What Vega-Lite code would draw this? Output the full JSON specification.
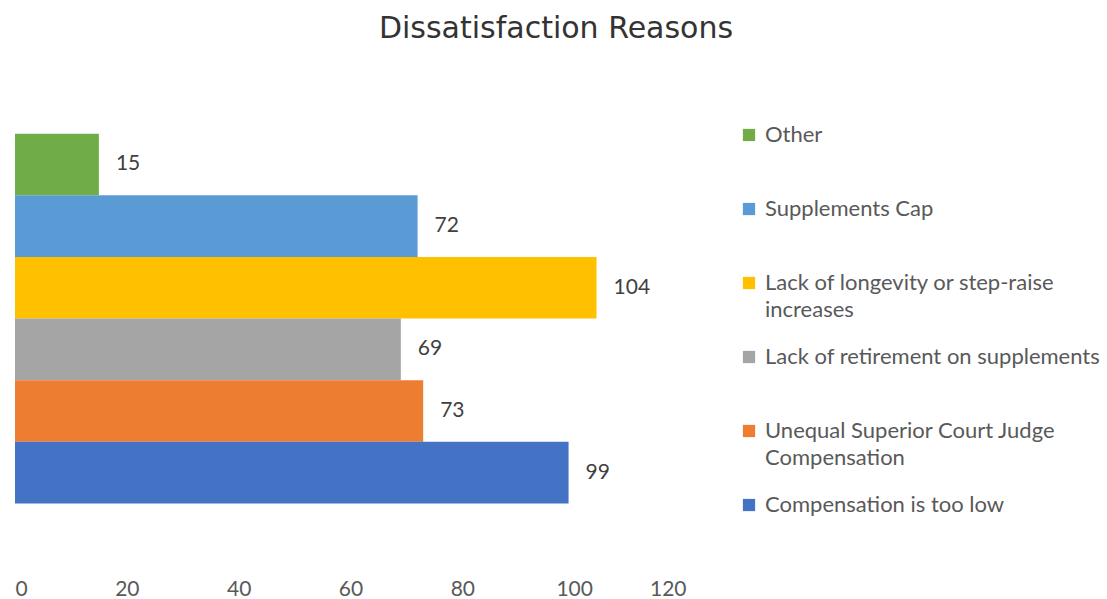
{
  "$schema": "https://vega.github.io/schema/vega-lite/v6.json",
  "width": 671,
  "height": 493,
  "autosize": "none",
  "padding": {"left": 15, "top": 72, "right": 421, "bottom": 34},
  "background": "white",
  "title": {
    "text": "Dissatisfaction Reasons",
    "anchor": "middle",
    "frame": "bounds",
    "font": "DejaVu Sans",
    "fontSize": 30,
    "fontWeight": "normal",
    "color": "#333333",
    "offset": 28,
    "dx": -2
  },
  "config": {"view": {"stroke": null}},
  "data": {
    "values": [
      {"reason": "Other", "count": 15},
      {"reason": "Supplements Cap", "count": 72},
      {"reason": "Lack of longevity or step-raise increases", "count": 104},
      {"reason": "Lack of retirement on supplements", "count": 69},
      {"reason": "Unequal Superior Court Judge Compensation", "count": 73},
      {"reason": "Compensation is too low", "count": 99}
    ]
  },
  "encoding": {
    "y": {
      "field": "reason",
      "type": "nominal",
      "sort": null,
      "axis": null,
      "scale": {"paddingInner": 0, "paddingOuter": 1}
    },
    "x": {
      "field": "count",
      "type": "quantitative",
      "scale": {"domain": [0, 120], "nice": false},
      "axis": {
        "title": null,
        "values": [0, 20, 40, 60, 80, 100, 120],
        "domain": false,
        "ticks": false,
        "grid": false,
        "labelFont": "Lato",
        "labelFontSize": 21,
        "labelColor": "#595959",
        "labelPadding": 13
      }
    }
  },
  "layer": [
    {
      "mark": {"type": "bar"},
      "encoding": {
        "color": {
          "field": "reason",
          "type": "nominal",
          "sort": null,
          "scale": {
            "domain": [
              "Other",
              "Supplements Cap",
              "Lack of longevity or step-raise increases",
              "Lack of retirement on supplements",
              "Unequal Superior Court Judge Compensation",
              "Compensation is too low"
            ],
            "range": ["#70AD47", "#5B9BD5", "#FFC000", "#A5A5A5", "#ED7D31", "#4472C4"]
          },
          "legend": {
            "title": null,
            "orient": "none",
            "legendX": 723,
            "legendY": 52,
            "padding": 0,
            "gridAlign": "all",
            "symbolType": "square",
            "symbolSize": 150,
            "symbolStrokeWidth": 0,
            "labelFont": "Lato",
            "labelFontSize": 22,
            "labelColor": "#595959",
            "labelOffset": 5,
            "labelLimit": 400,
            "rowPadding": 25,
            "labelExpr": "datum.label == 'Lack of longevity or step-raise increases' ? ['Lack of longevity or step-raise', 'increases'] : datum.label == 'Unequal Superior Court Judge Compensation' ? ['Unequal Superior Court Judge', 'Compensation'] : datum.label",
            "encode": {"labels": {"update": {"lineHeight": {"value": 27}}}}
          }
        }
      }
    },
    {
      "mark": {
        "type": "text",
        "align": "left",
        "baseline": "middle",
        "dx": 17,
        "font": "Lato",
        "fontSize": 21,
        "color": "#404040"
      },
      "encoding": {
        "text": {"field": "count", "type": "quantitative"}
      }
    }
  ]
}
